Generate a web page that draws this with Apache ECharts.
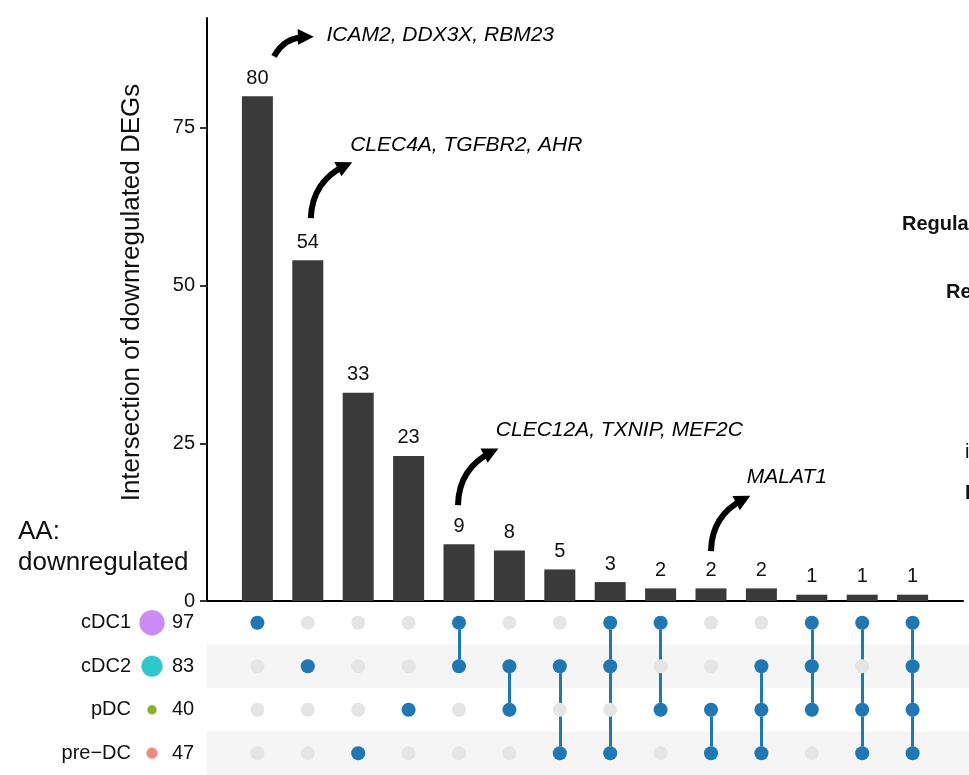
<!DOCTYPE html>
<html><head><meta charset="utf-8">
<script src="https://cdn.jsdelivr.net/npm/echarts@6/dist/echarts.min.js"></script>
<style>html,body{margin:0;padding:0;background:#fff}#c{width:969px;height:775px}</style>
</head><body><div id="c"></div>
<script>
// ---- data ----
const sets = ['cDC1', 'cDC2', 'pDC', 'pre\u2212DC'];
const setSizes = [97, 83, 40, 47];
const setColors = ['#c98bf6', '#2ec8cc', '#8db02a', '#f4877e'];
const intersectionCounts = [80, 54, 33, 23, 9, 8, 5, 3, 2, 2, 2, 1, 1, 1];
// membership per intersection column: indices into sets
const intersectionMembers = [[0], [1], [3], [2], [0, 1], [1, 2], [1, 3], [0, 1, 3], [0, 2], [2, 3], [1, 2, 3], [0, 1, 2], [0, 2, 3], [0, 1, 2, 3]];
const yTicks = [0, 25, 50, 75];
const annotGenes = ['ICAM2, DDX3X, RBM23', 'CLEC4A, TGFBR2, AHR', 'CLEC12A, TXNIP, MEF2C', 'MALAT1'];
// annotation anchors in data units (column, count)
const annotFrom = [[1.33, 86.3], [2.06, 60.7], [4.98, 15.2], [10.0, 7.9]];
const annotTo = [[1.96, 89.4], [2.74, 69.0], [5.64, 23.6], [10.64, 16.1]];
const annotLabelAt = [[2.37, 89.7], [2.84, 72.3], [5.73, 27.1], [10.71, 19.7]];

// ---- build ----
const FONT = "'Liberation Sans', Arial, Helvetica, sans-serif";
const nCols = intersectionCounts.length;
const xMax = nCols + 1;
const barLeft = 207, barRight = 6, W = 969;
const matrixXMax = xMax * (W - barLeft) / (W - barLeft - barRight);

const circleD = s => 0.28 * s - 2.2;
const CONT = 28;
const rich = {
  n: {fontSize: 20, color: '#111', fontFamily: FONT, verticalAlign: 'middle'},
  s7: {width: 7, fontSize: 10},
  s6: {width: 6, fontSize: 10},
  c: {fontSize: 20, color: '#111', fontFamily: FONT, width: 22, align: 'left', verticalAlign: 'middle'}
};
setSizes.forEach((s, i) => {
  const d = circleD(s);
  rich['p' + i] = {width: (CONT - d) / 2, fontSize: 10};
  rich['d' + i] = {width: d, height: d, borderRadius: d / 2, backgroundColor: setColors[i],
    borderColor: 'rgba(0,0,0,0.08)', borderWidth: 1, fontSize: 1, verticalAlign: 'middle'};
});

const greyDots = [];
for (let c = 0; c < nCols; c++) for (let r = 0; r < sets.length; r++) greyDots.push([c + 1, r]);
const blueDots = [];
const linkLines = [];
intersectionMembers.forEach((m, c) => {
  m.forEach(r => blueDots.push([c + 1, r]));
  if (m.length > 1) linkLines.push({coords: [[c + 1, Math.min(...m)], [c + 1, Math.max(...m)]]});
});

const chart = echarts.init(document.getElementById('c'), null, {renderer: 'canvas'});
chart.setOption({
  animation: false,
  backgroundColor: '#fff',
  textStyle: {fontFamily: FONT},
  grid: [
    {left: barLeft, right: barRight, top: 18, bottom: 174},
    {left: barLeft, right: 0, top: 601, bottom: -5}
  ],
  xAxis: [
    {gridIndex: 0, type: 'value', min: 0, max: xMax, axisLine: {show: true, lineStyle: {color: '#000', width: 2}},
      axisTick: {show: false}, axisLabel: {show: false}, splitLine: {show: false}},
    {gridIndex: 1, type: 'value', min: 0, max: matrixXMax, show: false, splitLine: {show: false}}
  ],
  yAxis: [
    {gridIndex: 0, type: 'value', min: 0, max: 92.4, interval: 25,
      name: 'Intersection of downregulated DEGs', nameLocation: 'middle', nameGap: 62,
      nameTextStyle: {fontSize: 26, color: '#111', fontFamily: FONT, padding: [0, 0, 0, 34]},
      axisLine: {show: true, lineStyle: {color: '#000', width: 2}},
      axisTick: {show: true, length: 7, lineStyle: {color: '#333', width: 2}, customValues: yTicks},
      axisLabel: {fontSize: 20, color: '#111', margin: 12, fontFamily: FONT, customValues: yTicks},
      splitLine: {show: false}},
    {gridIndex: 1, type: 'category', data: sets, inverse: true,
      axisLine: {show: false}, axisTick: {show: false},
      splitArea: {show: true, areaStyle: {color: ['rgba(255,255,255,0)', '#f5f5f5']}},
      axisLabel: {margin: 13, formatter: (v, i) => `{n|${v}}{s7| }{p${i}| }{d${i}| }{p${i}| }{s6| }{c|${setSizes[i]}}`, rich: rich}}
  ],
  series: [
    {type: 'bar', xAxisIndex: 0, yAxisIndex: 0, barWidth: 31,
      itemStyle: {color: '#3a3a3a'},
      label: {show: true, position: 'top', distance: 8, fontSize: 20, color: '#111', fontFamily: FONT,
        formatter: p => p.value[1]},
      data: intersectionCounts.map((v, i) => [i + 1, v])},
    {type: 'lines', coordinateSystem: 'cartesian2d', xAxisIndex: 0, yAxisIndex: 0, silent: true,
      symbol: ['none', 'triangle'], symbolSize: [16, 16],
      lineStyle: {color: '#000', width: 6, curveness: 0.3, opacity: 1},
      data: annotFrom.map((p, i) => ({coords: [p, annotTo[i]]}))},
    {type: 'scatter', xAxisIndex: 0, yAxisIndex: 0, symbolSize: 0, silent: true,
      itemStyle: {opacity: 1},
      label: {show: true, position: 'right', distance: 0, fontSize: 21, fontStyle: 'italic', color: '#000',
        opacity: 1, fontFamily: FONT, formatter: p => p.name},
      data: annotLabelAt.map((p, i) => ({value: p, name: annotGenes[i]}))},
    {type: 'scatter', xAxisIndex: 1, yAxisIndex: 1, symbolSize: 14, silent: true,
      itemStyle: {color: '#e5e5e5', opacity: 1}, data: greyDots},
    {type: 'lines', coordinateSystem: 'cartesian2d', xAxisIndex: 1, yAxisIndex: 1, silent: true,
      lineStyle: {color: '#1f77b4', width: 3, opacity: 1}, data: linkLines},
    {type: 'scatter', xAxisIndex: 1, yAxisIndex: 1, symbolSize: 14, silent: true,
      itemStyle: {color: '#1f77b4', opacity: 1}, data: blueDots}
  ],
  graphic: [
    {type: 'text', left: 18, top: 516, style: {text: 'AA:\ndownregulated', fontSize: 26, lineHeight: 31, fill: '#111', fontFamily: FONT}},
    {type: 'text', x: 902, y: 224, style: {text: 'Regulation', fontSize: 20, fontWeight: 'bold', fill: '#111', fontFamily: FONT, verticalAlign: 'middle'}},
    {type: 'text', x: 946, y: 292, style: {text: 'Regulated', fontSize: 20, fontWeight: 'bold', fill: '#111', fontFamily: FONT, verticalAlign: 'middle'}},
    {type: 'text', x: 965, y: 452, style: {text: 'in', fontSize: 20, fill: '#111', fontFamily: FONT, verticalAlign: 'middle'}},
    {type: 'text', x: 965, y: 493, style: {text: 'In', fontSize: 20, fontWeight: 'bold', fill: '#111', fontFamily: FONT, verticalAlign: 'middle'}}
  ]
});
</script></body></html>
